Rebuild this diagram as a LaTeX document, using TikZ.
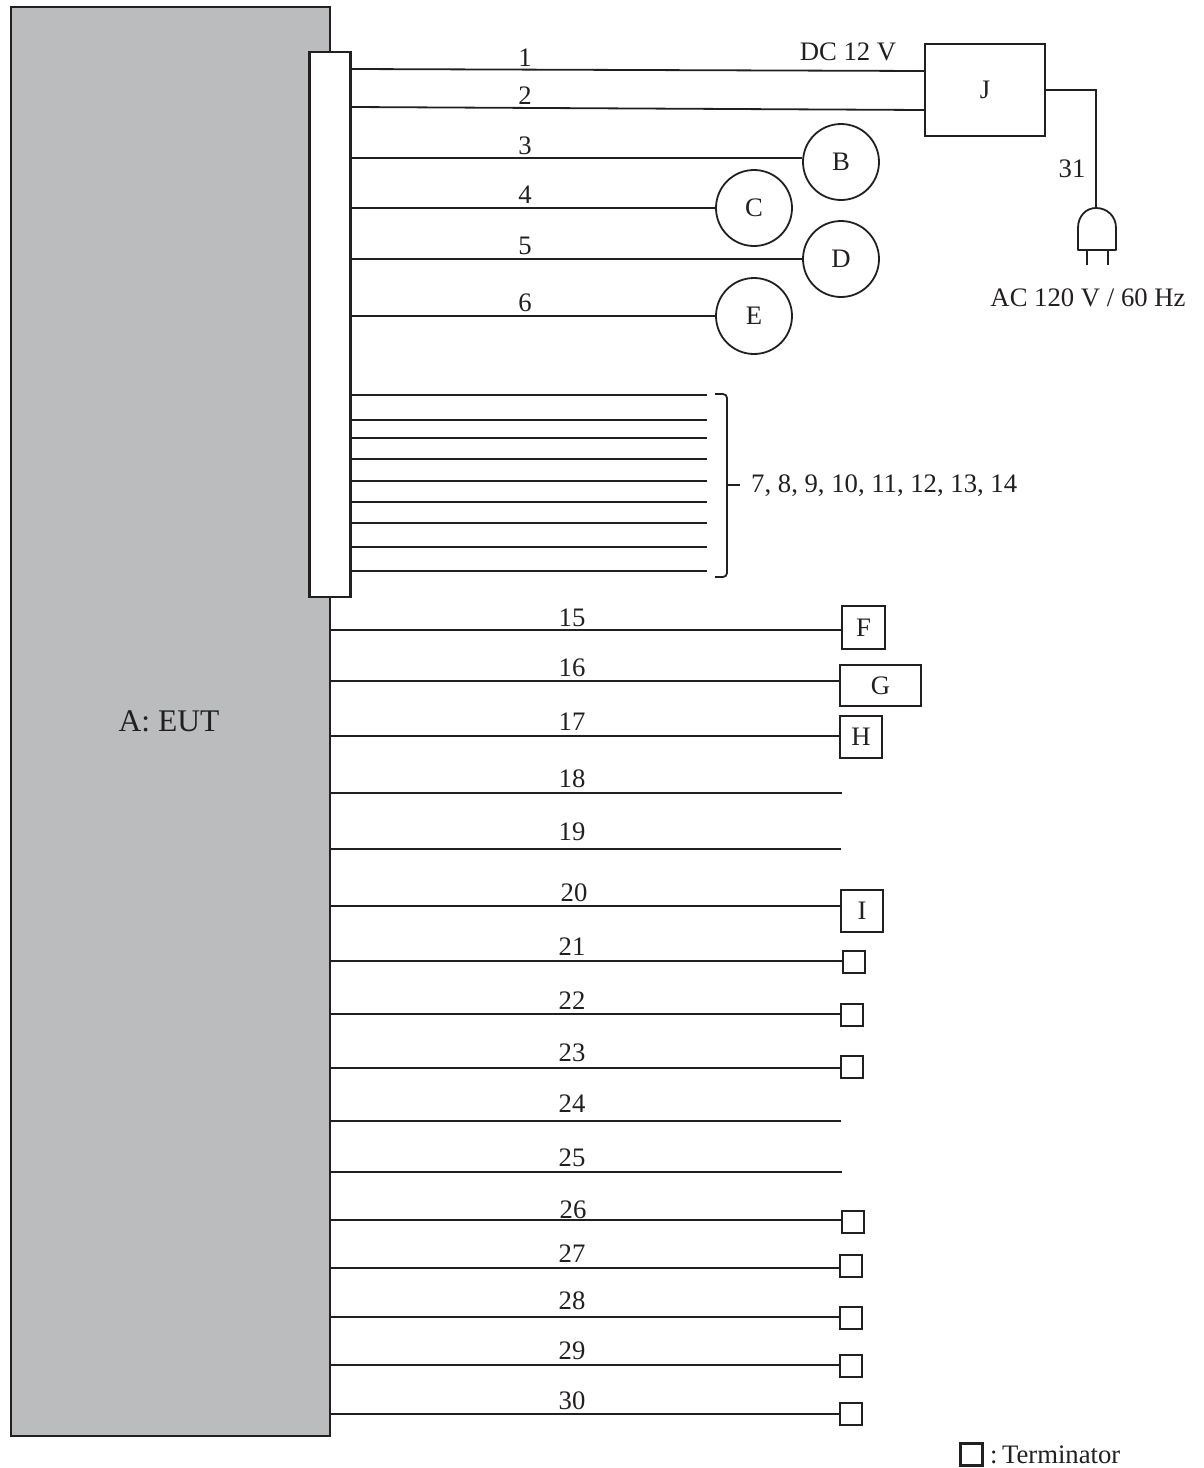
\documentclass[tikz,border=0pt]{standalone}
\usepackage{fontspec}
\setmainfont{Liberation Serif}
\usepackage{xcolor}
\definecolor{eutGray}{HTML}{BBBCBE}
\definecolor{wireInk}{HTML}{231F20}
\usetikzlibrary{calc}
\tikzset{
  wire/.style={draw=wireInk, line width=1.8pt},
  boxnode/.style={draw=wireInk, line width=1.8pt, fill=white, inner sep=0pt, text=wireInk},
  circlenode/.style={boxnode, circle, minimum size=76pt},
  terminator/.style={boxnode, minimum width=22pt, minimum height=22pt, line width=2.4pt},
  numlabel/.style={text=wireInk, inner sep=0pt}
}
\begin{document}
\begin{tikzpicture}[x=1pt, y=-1pt, font=\fontsize{26.7}{30}\selectfont]
  \useasboundingbox (0,0) rectangle (1204,1468);
  % ---- EUT and connector strip ----
  \node[boxnode, fill=eutGray, line width=2.6pt, minimum width=319pt, minimum height=1429pt] (eut) at (170.5,721.5) {};
  \node[numlabel, font=\fontsize{31.5}{36}\selectfont] (eutlabel) at (169,721) {A: EUT};
  \node[boxnode, line width=2.6pt, minimum width=41pt, minimum height=545pt] (strip) at (330,324.5) {};
  % ---- power supply and plug ----
  \node[boxnode, line width=2.4pt, minimum width=120pt, minimum height=92pt] (psu) at (985,90) {J};
  \coordinate (plugtop) at (1096,208);
  \draw[wire] (psu.east) -- (plugtop |- psu.east) -- (plugtop);
  \draw[wire, line join=round] (1078,250) -- (1078,228) .. controls (1078,216) and (1086,208) .. (plugtop) .. controls (1107,208) and (1116,216) .. (1116,228) -- (1116,250) -- cycle;
  \draw[wire] (1087,250) -- (1087,265);
  \draw[wire] (1108,250) -- (1108,265);
  \node[numlabel] (cord) at (1072,169) {31};
  \node[numlabel] (mains) at (1088,298) {AC 120 V / 60 Hz};
  \node[numlabel] (dc) at (848,52) {DC 12 V};
  % ---- wires 1 to 6 ----
  \draw[wire] (strip.east |- 0,69) -- (psu.west |- 0,71);
  \draw[wire] (strip.east |- 0,107) -- (psu.west |- 0,110);
  \node[circlenode] (devB) at (841,162) {B};
  \node[circlenode] (devC) at (754,208) {C};
  \node[circlenode] (devD) at (841,259) {D};
  \node[circlenode] (devE) at (754,316) {E};
  \draw[wire] (strip.east |- devB.174) -- (devB.174);
  \draw[wire] (strip.east |- devC.west) -- (devC.west);
  \draw[wire] (strip.east |- devD.west) -- (devD.west);
  \draw[wire] (strip.east |- devE.west) -- (devE.west);
  \foreach \num/\ly in {1/58, 2/96, 3/146, 4/195, 5/246, 6/303}
    \node[numlabel] (n\num) at (525,\ly) {\num};
  % ---- bundle 7 to 14 ----
  \foreach \y in {395, 420, 438, 459, 481, 502, 523, 547, 571}
    \draw[wire] (strip.east |- 0,\y) -- (707,\y);
  \coordinate (bundletip) at (740,485);
  \draw[wire, rounded corners=4pt] (715,394) -- (727,394) -- (727,577) -- (715,577);
  \draw[wire] (727,485) -- (bundletip);
  \node[numlabel, anchor=west] (bundle) at (751,486) {7, 8, 9, 10, 11, 12, 13, 14};
  % ---- boxed devices ----
  \node[boxnode, minimum width=43pt, minimum height=43pt] (devF) at (863.5,627.5) {F};
  \node[boxnode, minimum width=81pt, minimum height=41pt] (devG) at (880.5,685.5) {G};
  \node[boxnode, minimum width=42pt, minimum height=42pt] (devH) at (861,737) {H};
  \node[boxnode, minimum width=42pt, minimum height=42pt] (devI) at (862,911) {I};
  \draw[wire] (eut.east |- 0,630) -- (devF.west |- 0,630);
  \draw[wire] (eut.east |- 0,681) -- (devG.west |- 0,681);
  \draw[wire] (eut.east |- 0,736) -- (devH.west |- 0,736);
  \draw[wire] (eut.east |- 0,906) -- (devI.west |- 0,906);
  % ---- open ended wires ----
  \foreach \y/\xend in {793/842, 849/841, 1121/841, 1172/842}
    \draw[wire] (eut.east |- 0,\y) -- (\xend,\y);
  % ---- terminated wires ----
  \foreach \num/\y/\cx/\cy in {21/961/854/962, 22/1014/852/1015, 23/1068/852/1067, 26/1220/853/1222, 27/1268/851/1266, 28/1317/851/1318, 29/1365/851/1366, 30/1414/851/1414} {
    \node[terminator] (term\num) at (\cx,\cy) {};
    \draw[wire] (eut.east |- 0,\y) -- (term\num.west |- 0,\y);
  }
  \foreach \num/\lx/\ly in {15/572/618, 16/572/668, 17/572/722, 18/572/779, 19/572/832, 20/574/893, 21/572/947, 22/572/1001, 23/572/1053, 24/572/1104, 25/572/1158, 26/573/1210, 27/572/1254, 28/572/1301, 29/572/1351, 30/572/1401}
    \node[numlabel] (n\num) at (\lx,\ly) {\num};
  % ---- legend ----
  \node[terminator] (legendbox) at (971.5,1454.5) {};
  \node[numlabel, anchor=west] (legend) at (990,1455) {:\,Terminator};
\end{tikzpicture}
\end{document}
